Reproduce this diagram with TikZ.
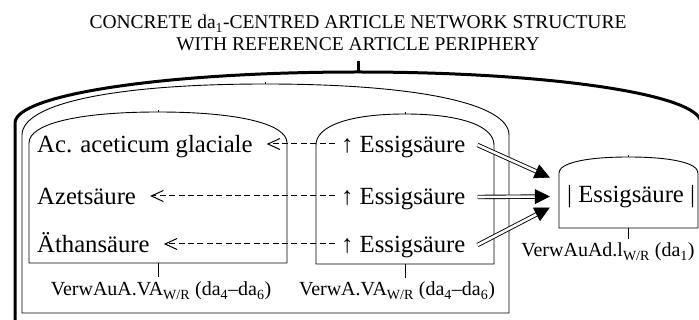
\documentclass[tikz,border=0pt]{standalone}
\usepackage{fontspec}
\setmainfont{Liberation Serif}
\usetikzlibrary{arrows.meta,calc}

% Dome-topped frame: [style] x1, x2, y of apex, y where the sides start, y of base;
% a short mark sits on the apex
\newcommand\domepath[6][]{%
  \draw[#1] (#2,#6) -- (#2,#5)
    .. controls (#2,{#5-0.62*(#5-#4)}) and ({#2+0.38*(#3-#2)/2},#4) .. ({(#2+#3)/2},#4)
    .. controls ({#3-0.38*(#3-#2)/2},#4) and (#3,{#5-0.62*(#5-#4)}) .. (#3,#5)
    -- (#3,#6) -- cycle;
  \draw[line width=0.7pt] ({(#2+#3)/2},#4) -- ++(0,-1.5);}

\tikzset{
  thinline/.style={line width=0.9pt},
  thickline/.style={line width=3pt},
  frame/.style={draw=none, inner sep=0pt, minimum width=#1},
  maintext/.style={inner sep=0pt, anchor=base west, font=\fontsize{24.7}{28}\selectfont},
  labeltext/.style={inner sep=0pt, anchor=base, font=\fontsize{20}{23}\selectfont},
  titletext/.style={inner sep=0pt, anchor=base, font=\fontsize{19.5}{23}\selectfont},
  dasharrow/.style={line width=1pt, dash pattern=on 6pt off 3.4pt,
    -{Straight Barb[length=12pt,width=11pt,line width=1pt]}},
  dblline/.style={double, double distance=2.6pt, line width=0.9pt, shorten >=12pt},
  headtip/.style={line width=0.6pt, -{Triangle[length=15pt,width=15pt]}},
}

\begin{document}
\begin{tikzpicture}[x=1pt,y=-1pt]
\useasboundingbox (0,0) rectangle (699,320);
\clip (0,0) rectangle (699,320);

% heading
\node[titletext] (head1) at (358,29) {CONCRETE da\textsubscript{1}-CENTRED ARTICLE NETWORK STRUCTURE};
\node[titletext] (head2) at (358,51) {WITH REFERENCE ARTICLE PERIPHERY};

% outer network frame (open below) with its tick
\draw[thickline] (15,330) -- (15,123)
  .. controls (15,{123-0.56*51}) and ({15+0.44*343},72) .. (358,72)
  .. controls ({701-0.44*343},72) and (701,{123-0.56*51}) .. (701,123) -- (701,330);
\draw[thickline] (358,72) -- (358,61);

% inner periphery frame
\domepath[thinline]{22}{509}{84}{135}{313}

% article frames
\node[frame=258pt, minimum height=151pt] (LB) at (158,187.5) {};
\node[frame=178pt, minimum height=150pt] (MB) at (405,189) {};
\node[frame=139pt, minimum height=71pt] (RB) at (628.5,192.5) {};
\domepath[thinline]{29}{287}{112}{143}{263}
\domepath[thinline]{316}{494}{114}{145}{264}
\domepath[thinline]{559}{698}{157}{173}{228}

% entries
\node[maintext] (a1) at (37,153) {Ac. aceticum glaciale};
\node[maintext] (a2) at (37,205) {Azetsäure};
\node[maintext] (a3) at (37,253) {Äthansäure};
\node[maintext] (b1) at (341,153) {↑ Essigsäure};
\node[maintext] (b2) at (341,205) {↑ Essigsäure};
\node[maintext] (b3) at (341,253) {↑ Essigsäure};
\node[maintext] (c1) at (567,203) {| Essigsäure |};

% frame labels
\node[labeltext] (la) at (161,296) {VerwAuA.VA\textsubscript{W/R} (da\textsubscript{4}–da\textsubscript{6})};
\node[labeltext] (lb) at (397,296) {VerwA.VA\textsubscript{W/R} (da\textsubscript{4}–da\textsubscript{6})};
\node[labeltext] (lc) at (608,257) {VerwAuAd.l\textsubscript{W/R} (da\textsubscript{1})};
\draw[thinline] (LB.south) -- ++(0,14);
\draw[thinline] (MB.south) -- ++(0,14);
\draw[thinline] (RB.south) -- ++(0,11);

% references to the equivalents
\draw[dasharrow] ([shift={(-6,-9)}]b1.base west) -- ([shift={(14,-9)}]a1.base east);
\draw[dasharrow] ([shift={(-6,-9)}]b2.base west) -- ([shift={(14,-9)}]a2.base east);
\draw[dasharrow] ([shift={(-6,-9)}]b3.base west) -- ([shift={(14,-9)}]a3.base east);

% double arrows to the central article
\coordinate (s1) at ([shift={(12,-8)}]b1.base east);
\coordinate (s2) at ([shift={(12,-8)}]b2.base east);
\coordinate (s3) at ([shift={(12,-8)}]b3.base east);
\coordinate (e1) at ([shift={(-9,-15)}]RB.west);
\coordinate (e2) at ([shift={(-9,4)}]RB.west);
\coordinate (e3) at ([shift={(-9,15)}]RB.west);
\foreach \i in {1,2,3}{
  \draw[dblline] (s\i) -- (e\i);
  \draw[headtip] ($(e\i)!15pt!(s\i)$) -- (e\i);
}
\end{tikzpicture}
\end{document}
